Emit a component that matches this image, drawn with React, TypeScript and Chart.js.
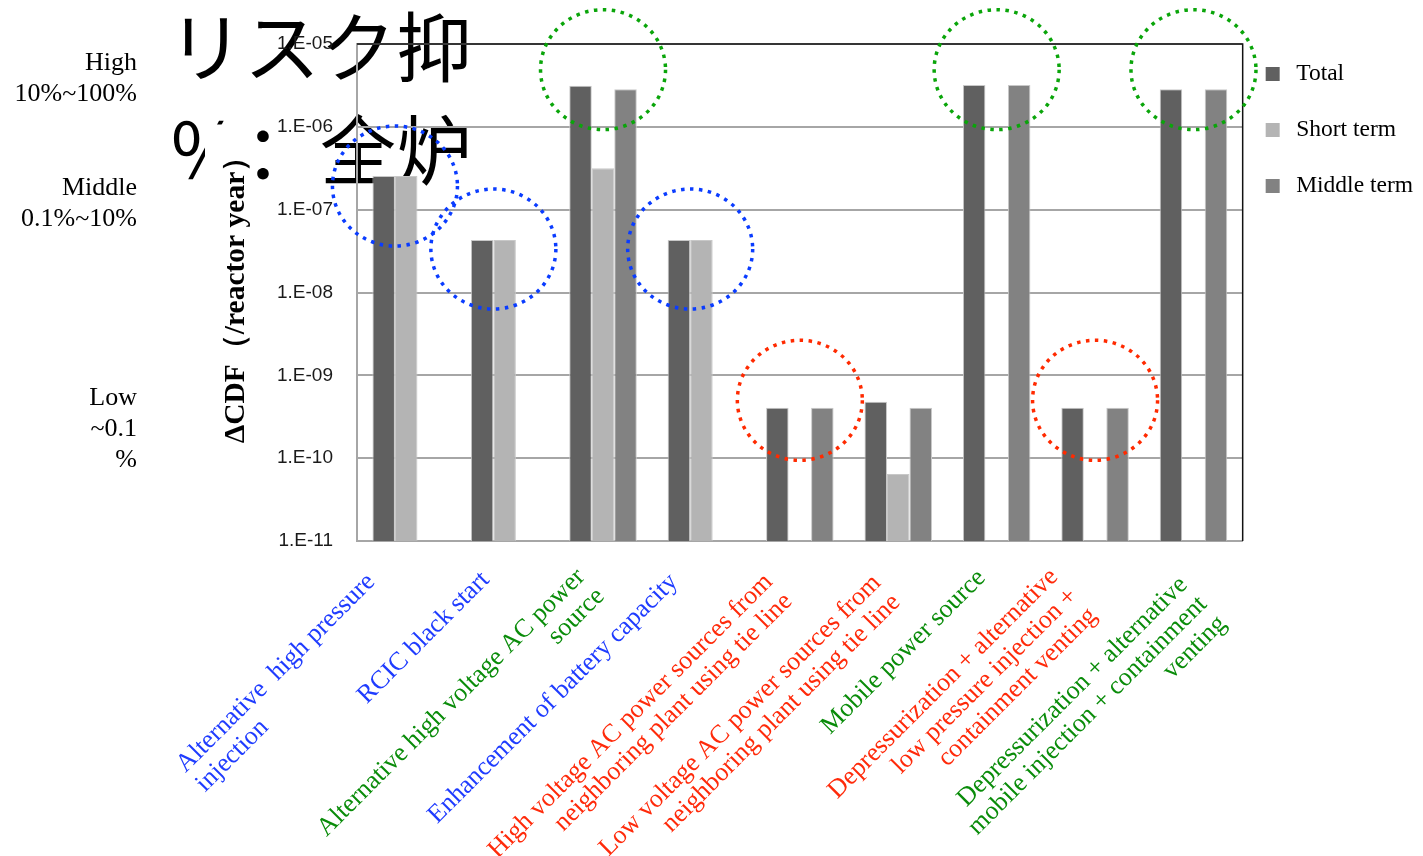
import React, { useEffect, useRef } from 'react';
import { Chart, registerables } from 'chart.js';

Chart.register(...registerables);

// ---------- data ----------
const categoryLabels: string[][] = [
  ['Alternative  high pressure', 'injection'],
  ['RCIC black start'],
  ['Alternative high voltage AC power', 'source'],
  ['Enhancement of battery capacity'],
  ['High voltage AC power sources from', 'neighboring plant using tie line'],
  ['Low voltage AC power sources from', 'neighboring plant using tie line'],
  ['Mobile power source'],
  ['Depressurization + alternative', 'low pressure injection +', 'containment venting'],
  ['Depressurization + alternative', 'mobile injection + containment', 'venting'],
];
const BLUE = '#1f3cff';
const GREEN = '#0a8c0a';
const RED = '#ff2a0a';
const categoryColors = [BLUE, BLUE, GREEN, BLUE, RED, RED, GREEN, RED, GREEN];

const seriesNames = ['Total', 'Short term', 'Middle term'];
const seriesColors = ['#606060', '#b4b4b4', '#828282'];

const totalValues = [2.55e-7, 4.3e-8, 3.14e-6, 4.3e-8, 4.07e-10, 4.8e-10, 3.2e-6, 4.07e-10, 2.84e-6];
const shortTermValues = [2.55e-7, 4.3e-8, 3.16e-7, 4.3e-8, null, 6.45e-11, null, null, null];
const middleTermValues = [null, null, 2.84e-6, null, 4.07e-10, 4.07e-10, 3.2e-6, 4.07e-10, 2.84e-6];

const yTickValues = [1e-11, 1e-10, 1e-9, 1e-8, 1e-7, 1e-6, 1e-5];
const yTickLabels = ['1.E-11', '1.E-10', '1.E-09', '1.E-08', '1.E-07', '1.E-06', '1.E-05'];
const yAxisTitle = 'ΔCDF（/reactor year）';

const riskLevelLines = [
  ['High', '10%~100%'],
  ['Middle', '0.1%~10%'],
  ['Low', '~0.1', '%'],
];

const overlayTextLines = ['リスク抑', '％：全炉'];

// highlight circles: category index, centre value, colour
const circleCategoryIndex = [2, 6, 8, 0, 1, 3, 4, 7];
const circleCenterValues = [4.9e-6, 4.9e-6, 4.9e-6, 1.93e-7, 3.35e-8, 3.35e-8, 5.0e-10, 5.0e-10];
const CIRC_GREEN = '#0aa50a';
const CIRC_BLUE = '#0a3cff';
const CIRC_RED = '#ff2a00';
const circleColors = [CIRC_GREEN, CIRC_GREEN, CIRC_GREEN, CIRC_BLUE, CIRC_BLUE, CIRC_BLUE, CIRC_RED, CIRC_RED];

// ---------- layout constants for the rotated category labels ----------
const LABEL_FONT = '26px "Liberation Serif", serif';
const LABEL_LINE_HEIGHT = 27.5;
const labelNudgeX = [-35, -19, -22, -27.5, -31, -21.4, -15, -41, -10];
const labelDropY = [37, 35, 32, 37, 37, 38, 33, 32, 40];
// 'start' = align the line to the start of the first line, otherwise right-aligned
const labelLineAlign: string[][] = [['end', 'start'], ['end'], ['end', 'end'], ['end'], ['end', 'end'], ['end', 'end'], ['end'], ['end', 'end', 'end'], ['end', 'end', 'end']];

const TITLE_FONT_SIZE = 29.5;
const TITLE_PAD = 236 - (TITLE_FONT_SIZE * 1.2) / 2;

// ---------- plugins ----------
// white text-box behind the y-axis title (as in the source slide)
const titleBoxPlugin = {
  id: 'titleBox',
  beforeDraw(chart: any) {
    const { ctx, chartArea } = chart;
    const ys = chart.scales.y;
    const cx = ys.left + TITLE_PAD + (TITLE_FONT_SIZE * 1.2) / 2;
    const cy = (chartArea.top + chartArea.bottom) / 2;
    ctx.save();
    ctx.fillStyle = '#ffffff';
    ctx.fillRect(cx - 31, cy - 168, 48, 336);
    ctx.restore();
  },
};

const framePlugin = {
  id: 'frameLines',
  beforeDatasetsDraw(chart: any) {
    const { ctx, chartArea } = chart;
    ctx.save();
    ctx.strokeStyle = '#111';
    ctx.lineWidth = 1.5;
    ctx.beginPath();
    ctx.moveTo(chartArea.left, chartArea.top);
    ctx.lineTo(chartArea.right, chartArea.top);
    ctx.lineTo(chartArea.right, chartArea.bottom);
    ctx.stroke();
    ctx.restore();
  },
};

const circlesPlugin = {
  id: 'riskCircles',
  afterDatasetsDraw(chart: any) {
    const { ctx } = chart;
    const yScale = chart.scales.y;
    ctx.save();
    circleCategoryIndex.forEach((ci, k) => {
      const xs: number[] = [];
      chart.data.datasets.forEach((ds: any, di: number) => {
        if (ds.data[ci] == null) return;
        const el = chart.getDatasetMeta(di).data[ci];
        if (el) xs.push(el.x);
      });
      if (!xs.length) return;
      const cx = (Math.min(...xs) + Math.max(...xs)) / 2;
      const cy = yScale.getPixelForValue(circleCenterValues[k]);
      ctx.beginPath();
      ctx.setLineDash([3.5, 5.5]);
      ctx.lineWidth = 3.5;
      ctx.strokeStyle = circleColors[k];
      ctx.ellipse(cx, cy, 62.5, 60, 0, 0, Math.PI * 2);
      ctx.stroke();
    });
    ctx.restore();
  },
};

const categoryLabelPlugin = {
  id: 'rotatedCategoryLabels',
  afterDraw(chart: any) {
    const { ctx } = chart;
    const xs = chart.scales.x;
    ctx.save();
    ctx.font = LABEL_FONT;
    ctx.textBaseline = 'middle';
    (chart.data.labels as string[][]).forEach((lines, i) => {
      const px = xs.getPixelForValue(i) + labelNudgeX[i];
      const py = xs.top + labelDropY[i];
      ctx.save();
      ctx.translate(px, py);
      ctx.rotate(-Math.PI / 4);
      ctx.fillStyle = categoryColors[i];
      const w0 = ctx.measureText(lines[0]).width;
      lines.forEach((line, j) => {
        if (labelLineAlign[i][j] === 'start') {
          ctx.textAlign = 'left';
          ctx.fillText(line, -w0, j * LABEL_LINE_HEIGHT);
        } else {
          ctx.textAlign = 'right';
          ctx.fillText(line, 0, j * LABEL_LINE_HEIGHT);
        }
      });
      ctx.restore();
    });
    ctx.restore();
  },
};

const riskTops = [46, 171, 381];

export default function App() {
  const ref = useRef<HTMLCanvasElement>(null);

  useEffect(() => {
    const barBorder = '#c8c8c8';
    const chart = new Chart(ref.current as HTMLCanvasElement, {
      type: 'bar',
      data: {
        labels: categoryLabels as any,
        datasets: [
          { label: seriesNames[0], data: totalValues as any, backgroundColor: seriesColors[0], borderColor: barBorder, borderWidth: 1 },
          { label: seriesNames[1], data: shortTermValues as any, backgroundColor: seriesColors[1], borderColor: barBorder, borderWidth: 1 },
          { label: seriesNames[2], data: middleTermValues as any, backgroundColor: seriesColors[2], borderColor: barBorder, borderWidth: 1 },
        ],
      },
      options: {
        responsive: false,
        animation: false,
        events: [],
        layout: { padding: { top: 44, right: 0, bottom: 0, left: 0 } },
        datasets: { bar: { categoryPercentage: 0.686, barPercentage: 1 } } as any,
        plugins: {
          tooltip: { enabled: false },
          legend: {
            position: 'right',
            align: 'start',
            labels: {
              usePointStyle: true,
              pointStyle: 'rect',
              boxWidth: 23.5,
              boxHeight: 14,
              padding: 18.25,
              color: '#000',
              font: { family: '"Liberation Serif", serif', size: 23.5, lineHeight: 1.606 },
              generateLabels: (c: any) =>
                (Chart.defaults.plugins.legend.labels.generateLabels as any)(c).map((item: any) => ({
                  ...item,
                  text: [item.text],
                  pointStyle: 'rect',
                  lineWidth: 0,
                })),
            },
          } as any,
        },
        scales: {
          x: {
            offset: true,
            grid: { display: false, drawTicks: false },
            border: { display: true, color: '#a6a6a6', width: 2 },
            ticks: { display: false, autoSkip: false },
            afterFit: (s: any) => {
              s.height = 315;
            },
          } as any,
          y: {
            type: 'logarithmic',
            min: 1e-11,
            max: 1e-5,
            afterBuildTicks: (s: any) => {
              s.ticks = yTickValues.map((v) => ({ value: v }));
            },
            ticks: {
              autoSkip: false,
              padding: 24,
              color: '#1a1a1a',
              font: { family: '"Liberation Sans", sans-serif', size: 19 },
              callback: (v: any) => {
                const i = yTickValues.findIndex((t) => Math.abs(t - v) / t < 1e-6);
                return i >= 0 ? yTickLabels[i] : '';
              },
            },
            grid: { color: '#a6a6a6', lineWidth: 2, drawTicks: false },
            border: { display: true, color: '#a6a6a6', width: 2 },
            title: {
              display: true,
              text: yAxisTitle,
              color: '#000',
              font: { family: '"Liberation Serif", serif', size: TITLE_FONT_SIZE, weight: 'bold', lineHeight: 1.2 },
              padding: { top: TITLE_PAD, bottom: 0 },
            },
            afterFit: (s: any) => {
              s.width = 357;
            },
          } as any,
        },
      },
      plugins: [titleBoxPlugin, framePlugin, circlesPlugin, categoryLabelPlugin],
    });
    return () => chart.destroy();
  }, []);

  return (
    <div style={{ position: 'absolute', left: 0, top: 0, width: 1423, height: 856, background: '#fff', overflow: 'hidden' }}>
      <div
        style={{
          position: 'absolute',
          left: 165,
          top: -8,
          width: 311,
          height: 210,
          overflow: 'hidden',
          boxSizing: 'border-box',
          paddingLeft: 3,
          fontFamily: '"Noto Sans CJK SC", sans-serif',
          fontSize: 76,
          lineHeight: '103px',
          whiteSpace: 'nowrap',
          color: '#000',
        }}
      >
        {overlayTextLines.map((l, i) => (
          <div key={i}>{l}</div>
        ))}
      </div>
      <canvas ref={ref} width={1423} height={856} style={{ position: 'absolute', left: 0, top: 0, width: 1423, height: 856 }} />
      {riskLevelLines.map((lines, i) => (
        <div
          key={i}
          style={{
            position: 'absolute',
            left: 0,
            width: 137,
            top: riskTops[i],
            textAlign: 'right',
            fontFamily: '"Liberation Serif", serif',
            fontSize: 26,
            lineHeight: '31px',
            color: '#000',
          }}
        >
          {lines.map((l, j) => (
            <div key={j}>{l}</div>
          ))}
        </div>
      ))}
    </div>
  );
}
